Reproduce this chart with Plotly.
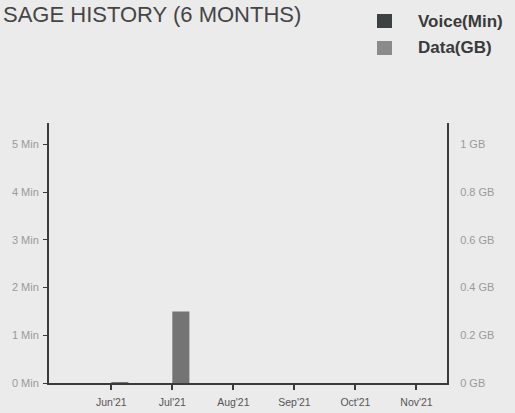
import plotly.graph_objects as go

months = ["Jun'21", "Jul'21", "Aug'21", "Sep'21", "Oct'21", "Nov'21"]
voice_min = [0, 0, 0, 0, 0, 0]
data_gb = [0.004, 0.3, 0, 0, 0, 0]
voice_ticks = [0, 1, 2, 3, 4, 5]
voice_labels = ["0 Min", "1 Min", "2 Min", "3 Min", "4 Min", "5 Min"]
data_ticks = [0, 0.2, 0.4, 0.6, 0.8, 1.0]
data_labels = ["0 GB", "0.2 GB", "0.4 GB", "0.6 GB", "0.8 GB", "1 GB"]
legend_names = ["Voice(Min)", "Data(GB)"]
title_text = "SAGE HISTORY (6 MONTHS)"

BG = "#ebebeb"
FONT = "Liberation Sans, Arial, sans-serif"
VOICE_C = "#3c4144"
DATA_C = "#8a8a8a"

# plot area in pixels
L, R, T, B = 49, 447, 123, 383
W, H = 515, 413


def px(x):
    return (x - L) / (R - L)


def py(y):
    return (B - y) / (B - T)


fig = go.Figure()
fig.add_trace(go.Bar(x=months, y=voice_min, name=legend_names[0], marker_color=VOICE_C,
                     marker_line_width=0, offsetgroup="v", yaxis="y", showlegend=False))
fig.add_trace(go.Bar(x=months, y=data_gb, name=legend_names[1], marker_color="#747474",
                     marker_line_width=0, offsetgroup="d", yaxis="y2", showlegend=False))

shapes = []
annotations = []
for i, (name, col) in enumerate(zip(legend_names, [VOICE_C, DATA_C])):
    cy = 21 + i * 27
    shapes.append(dict(type="rect", xref="paper", yref="paper",
                       x0=px(377), x1=px(392), y0=py(cy - 7), y1=py(cy + 7),
                       fillcolor=col, line_width=0, layer="above"))
    annotations.append(dict(text=name, x=px(416), y=py(cy), xref="paper", yref="paper",
                            xanchor="left", yanchor="middle", showarrow=False,
                            font=dict(size=17, color="#3a3a3a", family=FONT, weight="bold")))
annotations.append(dict(text=title_text, x=px(1), y=py(0), xref="paper", yref="paper",
                        xanchor="left", yanchor="top", showarrow=False, yshift=0,
                        font=dict(size=22, color="#454545", family=FONT)))

fig.update_layout(
    width=W, height=H,
    margin=dict(l=L, r=W - R, t=T, b=H - B, autoexpand=False),
    paper_bgcolor=BG, plot_bgcolor=BG,
    font=dict(family=FONT, color="#333"),
    barmode="group", bargap=0.44, bargroupgap=0,
    showlegend=False,
    xaxis=dict(type="category", range=[-1.02, 5.5], showline=True, linecolor="#3a3a3a", linewidth=2,
               ticks="outside", ticklen=5, tickcolor="#3a3a3a", tickwidth=2,
               ticklabelstandoff=3, automargin=False,
               tickfont=dict(size=10.5, color="#555"), showgrid=False, zeroline=False),
    yaxis=dict(range=[0, 5.45], tickvals=voice_ticks, ticktext=voice_labels,
               showline=True, linecolor="#3a3a3a", linewidth=2,
               ticks="outside", ticklen=4, tickcolor="#3a3a3a", tickwidth=1,
               ticklabelstandoff=2, automargin=False,
               tickfont=dict(size=11, color="#9a9a9a"), showgrid=False, zeroline=False),
    yaxis2=dict(range=[0, 1.09], tickvals=data_ticks, ticktext=data_labels,
                overlaying="y", side="right", showline=True, linecolor="#3a3a3a", linewidth=2,
                ticks="", ticklabelstandoff=9, automargin=False,
                tickfont=dict(size=11, color="#9a9a9a"), showgrid=False, zeroline=False),
    shapes=shapes,
    annotations=annotations,
)

fig.write_html("out.html", config={"displayModeBar": False},
               post_script="document.body.style.margin='0';")
